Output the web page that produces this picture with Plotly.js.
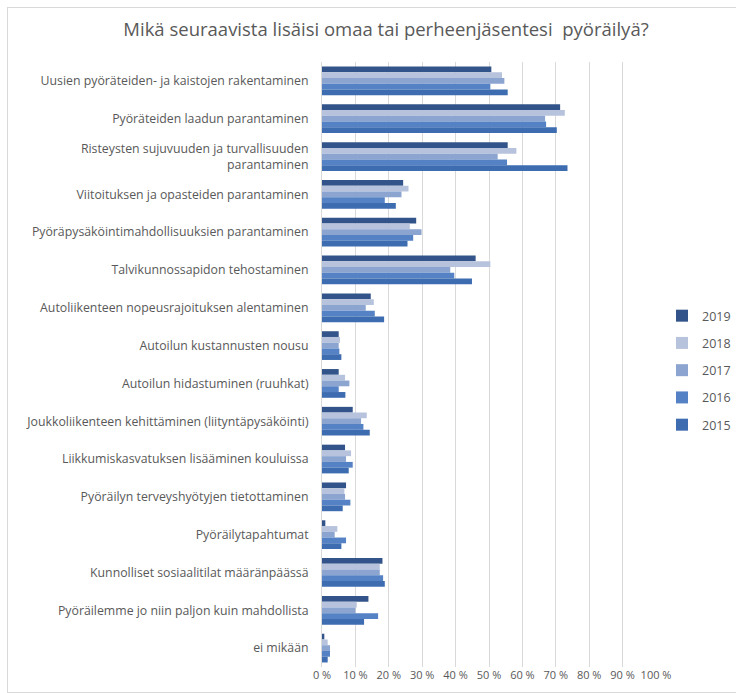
<!DOCTYPE html>
<html>
<head>
<meta charset="utf-8">
<script src="https://cdn.plot.ly/plotly-3.0.1.min.js"></script>
<style>
  html, body { margin: 0; padding: 0; background: #ffffff; overflow: hidden; }
  #wrap { position: relative; width: 736px; height: 693px; overflow: hidden; }
  #chart { position: absolute; left: 0; top: 0; width: 790px; height: 693px; }
  #frame { position: absolute; left: 7px; top: 7px; width: 760px; height: 684px; border: 1px solid #d9d9d9; pointer-events: none; }
</style>
</head>
<body>
<div id="wrap">
  <div id="chart"></div>
  <div id="frame"></div>
</div>
<script>
const categories = [
  "Uusien pyöräteiden- ja kaistojen rakentaminen",
  "Pyöräteiden laadun parantaminen",
  "Risteysten sujuvuuden ja turvallisuuden<br>parantaminen",
  "Viitoituksen ja opasteiden parantaminen",
  "Pyöräpysäköintimahdollisuuksien parantaminen",
  "Talvikunnossapidon tehostaminen",
  "Autoliikenteen nopeusrajoituksen alentaminen",
  "Autoilun kustannusten nousu",
  "Autoilun hidastuminen (ruuhkat)",
  "Joukkoliikenteen kehittäminen (liityntäpysäköinti)",
  "Liikkumiskasvatuksen lisääminen kouluissa",
  "Pyöräilyn terveyshyötyjen tietottaminen",
  "Pyöräilytapahtumat",
  "Kunnolliset sosiaalitilat määränpäässä",
  "Pyöräilemme jo niin paljon kuin mahdollista",
  "ei mikään"
];

const years = ["2019", "2018", "2017", "2016", "2015"];

const v2019 = [50.7, 71.3, 55.6, 24.3, 28.2, 46.0, 14.6, 5.0, 5.0, 9.2, 6.9, 7.2, 1.0, 18.1, 13.9, 0.7];
const v2018 = [53.9, 72.7, 58.2, 25.9, 26.3, 50.4, 15.5, 5.4, 6.9, 13.4, 8.7, 6.7, 4.6, 17.3, 10.4, 1.7];
const v2017 = [54.6, 66.8, 52.6, 23.8, 29.8, 38.4, 13.1, 5.0, 8.2, 11.7, 7.2, 6.9, 3.8, 17.3, 10.0, 2.4];
const v2016 = [50.4, 67.1, 55.4, 18.8, 27.3, 39.6, 15.8, 5.2, 5.0, 12.4, 9.2, 8.5, 7.2, 18.3, 16.8, 2.4];
const v2015 = [55.6, 70.3, 73.5, 22.1, 25.6, 44.9, 18.6, 5.8, 7.0, 14.3, 8.0, 6.2, 5.8, 18.8, 12.6, 1.7];

const seriesValues = [v2019, v2018, v2017, v2016, v2015];
const colors = ["#33548a", "#b7c3dd", "#8ca5d0", "#5582c4", "#3d6cb0"];

const tickVals = [0, 10, 20, 30, 40, 50, 60, 70, 80, 90, 100];
const tickText = ["0 %", "10 %", "20 %", "30 %", "40 %", "50 %", "60 %", "70 %", "80 %", "90 %", "100 %"];

const traces = years.map((y, i) => ({
  type: "bar",
  orientation: "h",
  name: y,
  legendgroup: y,
  x: seriesValues[i],
  y: categories,
  marker: { color: colors[i], line: { width: 0 } },
  hoverinfo: "x+name"
}));

const W = 790;
const layout = {
  width: W,
  height: 693,
  paper_bgcolor: "#ffffff",
  plot_bgcolor: "#ffffff",
  margin: { l: 322, r: W - 656, t: 62, b: 26, pad: 0 },
  font: { family: "Open Sans, Noto Sans, sans-serif", size: 11, color: "#595959" },
  title: {
    text: "Mikä seuraavista lisäisi omaa tai perheenjäsentesi  pyöräilyä?",
    font: { family: "Open Sans, Noto Sans, sans-serif", size: 18.5, color: "#595959" },
    xref: "container", x: 386 / W, xanchor: "center",
    yref: "container", y: 1 - 30 / 693, yanchor: "middle"
  },
  barmode: "group",
  bargap: 0.24,
  bargroupgap: 0,
  xaxis: {
    range: [0, 100],
    tickvals: tickVals,
    ticktext: tickText,
    tickangle: 0,
    showgrid: true,
    gridcolor: "#d9d9d9",
    gridwidth: 1,
    zeroline: false,
    showline: false,
    ticks: "",
    tickfont: { size: 11, color: "#595959" },
    fixedrange: true
  },
  yaxis: {
    autorange: "reversed",
    type: "category",
    showgrid: false,
    zeroline: false,
    showline: true,
    linecolor: "#d9d9d9",
    linewidth: 1,
    ticks: "",
    ticklabelstandoff: 10,
    tickfont: { size: 12.3, color: "#595959" },
    fixedrange: true
  },
  showlegend: true,
  legend: {
    x: (662 - 322) / 334, xanchor: "left",
    y: 0.49, yanchor: "middle",
    traceorder: "grouped",
    tracegroupgap: 8,
    font: { size: 12.5, color: "#595959" },
    itemwidth: 30,
    bgcolor: "rgba(0,0,0,0)"
  }
};

Plotly.newPlot("chart", traces, layout, { displayModeBar: false, staticPlot: true });
</script>
</body>
</html>
